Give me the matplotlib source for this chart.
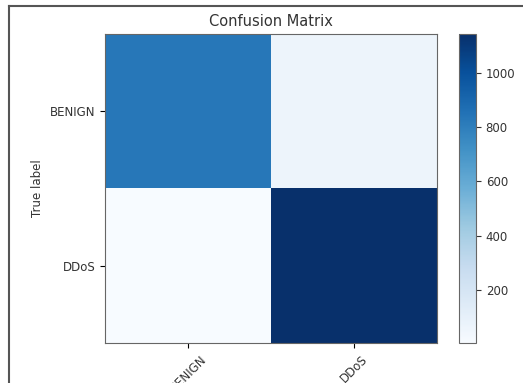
import numpy as np
import matplotlib
matplotlib.use("Agg")
import matplotlib.pyplot as plt
from matplotlib.lines import Line2D

# クラス名と混同行列の値
classes = ["BENIGN", "DDoS"]
row_benign = [830, 57]
row_ddos = [3, 1145]
cbar_ticks = [200, 400, 600, 800, 1000]


def plot_confusion_matrix(cm, classes):
    """混同行列をヒートマップとして描画"""
    fig = plt.figure(figsize=(5.23, 3.83), dpi=100)
    W, H = 523, 383

    # 枠線（上と左）
    fig.add_artist(Line2D([9 / W, 1], [1 - 6 / H, 1 - 6 / H], color="#555555", lw=1.5))
    fig.add_artist(Line2D([9 / W, 9 / W], [0, 1 - 6 / H], color="#555555", lw=1.5))

    ax = fig.add_axes([105 / W, 40 / H, 332 / W, 309 / H])
    cax = fig.add_axes([459 / W, 40 / H, 17 / W, 309 / H])

    im = ax.imshow(cm, interpolation="nearest", cmap=plt.cm.Blues, aspect="auto")
    ax.set_title("Confusion Matrix", fontsize=10.5, color="#333333")
    cb = fig.colorbar(im, cax=cax)
    cb.set_ticks(cbar_ticks)
    cb.ax.tick_params(labelsize=8.5, colors="#333333")
    cb.outline.set_edgecolor("#666666")

    tick_marks = np.arange(len(classes))
    ax.set_xticks(tick_marks)
    ax.set_xticklabels(classes, rotation=45, fontsize=8.5, color="#333333")
    ax.set_yticks(tick_marks)
    ax.set_yticklabels(classes, fontsize=8.5, color="#333333")
    ax.set_ylabel("True label", fontsize=8.5, color="#333333")
    for s in ax.spines.values():
        s.set_edgecolor("#666666")

    fig.savefig("out.png", dpi=100)


def main():
    cm = np.array([row_benign, row_ddos])
    plot_confusion_matrix(cm, classes)


if __name__ == "__main__":
    main()
